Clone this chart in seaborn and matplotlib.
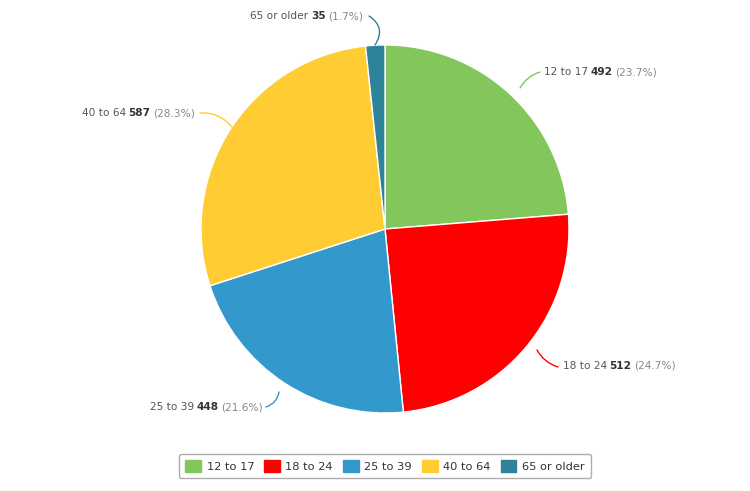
import matplotlib
matplotlib.use("Agg")
import matplotlib.pyplot as plt
import seaborn as sns
from matplotlib.patches import Patch
from matplotlib.offsetbox import TextArea, HPacker, AnnotationBbox

sns.set_theme(style="white")
plt.rcParams['font.family'] = ['DejaVu Sans']

categories = ["12 to 17", "18 to 24", "25 to 39", "40 to 64", "65 or older"]
values = [492, 512, 448, 587, 35]
colors = ["#82c65c", "#ff0000", "#3399cc", "#ffcc33", "#2e8399"]

W, H = 750, 491
fig = plt.figure(figsize=(7.5, 4.91), dpi=100)
ax = fig.add_axes([0, 0, 1, 1])

cx, cy, r = 385, H - 229, 184
ax.pie(values, colors=colors, startangle=90, counterclock=False,
       center=(cx, cy), radius=r, frame=True,
       wedgeprops=dict(edgecolor="white", linewidth=1))
ax.set_xlim(0, W)
ax.set_ylim(0, H)
ax.set_aspect("equal")
ax.axis("off")

total = sum(values)
# label placements (pixel coords, y from top): text anchor, alignment, connector start/end, curvature
label_pos = [
    ((544, 72), "left", (520, 88), (540, 72), -0.2),
    ((563, 366), "left", (537, 350), (558, 367), 0.2),
    ((263, 407), "right", (279, 392), (266, 407), -0.3),
    ((195, 113), "right", (232, 127), (200, 113), 0.25),
    ((363, 16), "right", (375, 45), (369, 16), 0.5),
]

fs = 7.6
for cat, val, col, (tp, align, p0, p1, rad) in zip(categories, values, colors, label_pos):
    pct = 100.0 * val / total
    parts = [
        TextArea(cat, textprops=dict(color="#555555", fontsize=fs)),
        TextArea(f"{val}", textprops=dict(color="#333333", fontsize=fs, fontweight="bold")),
        TextArea(f"({pct:.1f}%)", textprops=dict(color="#888888", fontsize=fs)),
    ]
    box = HPacker(children=parts, align="baseline", pad=0, sep=1.8)
    ab = AnnotationBbox(box, (tp[0], H - tp[1]), xycoords="data",
                        box_alignment=(0 if align == "left" else 1, 0.5),
                        frameon=False, pad=0)
    ax.add_artist(ab)
    ax.annotate("", xy=(p1[0], H - p1[1]), xytext=(p0[0], H - p0[1]),
                arrowprops=dict(arrowstyle="-", color=col, lw=1,
                                connectionstyle=f"arc3,rad={rad}",
                                shrinkA=0, shrinkB=0))

handles = [Patch(facecolor=c, edgecolor=c, label=l) for c, l in zip(colors, categories)]
leg = fig.legend(handles=handles, loc="center", bbox_to_anchor=(385 / W, 1 - 466 / H),
                 ncol=5, frameon=True, fontsize=8.2, handlelength=1.35, handleheight=1.15,
                 handletextpad=0.5, columnspacing=0.9, borderpad=0.55,
                 fancybox=True, edgecolor="#999999", labelcolor="#333333")
leg.get_frame().set_linewidth(1)

fig.savefig("out.png", dpi=100, facecolor="white")
